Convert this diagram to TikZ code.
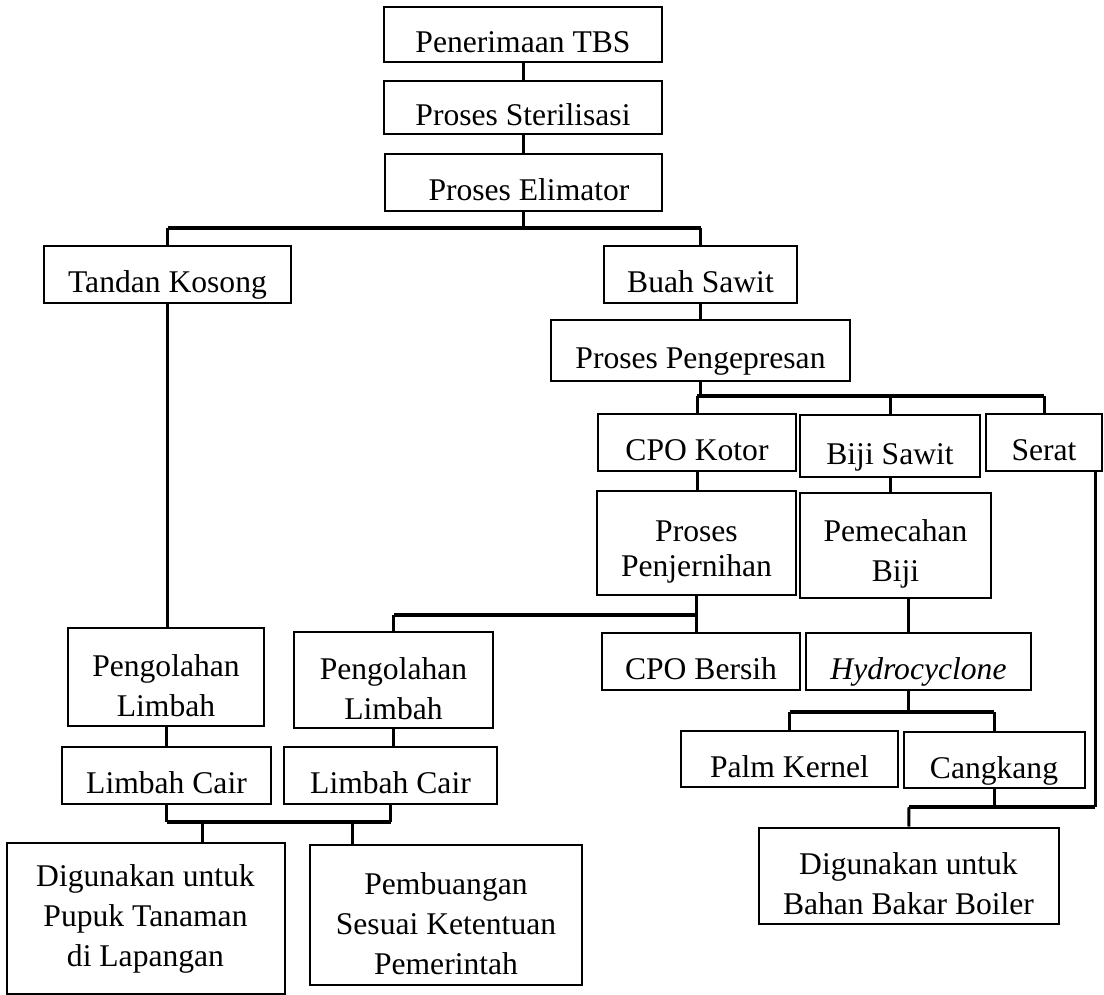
\documentclass[tikz,border=0pt]{standalone}
\usepackage{fontspec}
\setmainfont{Liberation Serif}
\usepackage{tikz}
\usetikzlibrary{positioning, calc}

\newcommand{\tinggi}{\rule{0pt}{19.5pt}}

\tikzset{
    kotak/.style={draw, line width=1pt, inner sep=0pt, font=\fontsize{15.8}{20}\selectfont, text height=18.4pt, text depth=0pt},
    kotakdua/.style={draw, line width=1pt, inner sep=0pt, align=center, font=\fontsize{15.8}{20}\selectfont},
    garis/.style={line width=1.5pt},
    cabang/.style={line width=2.2pt}
}

\begin{document}
\begin{tikzpicture}[x=0.5pt, y=-0.5pt]
    \useasboundingbox (0,0) rectangle (1104,995);

    % Proses awal
    \node[kotak, minimum width=139pt, minimum height=27.5pt] (tbs) at (523,34.5) {Penerimaan TBS};
    \node[kotak, minimum width=139pt, minimum height=26.5pt] (steril) at (523,107.5) {Proses Sterilisasi};
    \node[kotak, minimum width=138.5pt, minimum height=28.5pt] (elim) at (523,182.5) {\hspace{6pt}Proses Elimator};

    % Hasil elimator
    \node[kotak, minimum width=123.5pt, minimum height=28.5pt] (tandan) at (167.5,274.5) {Tandan Kosong};
    \node[kotak, minimum width=96.5pt, minimum height=28.5pt] (buah) at (700.5,274.5) {Buah Sawit};
    \node[kotak, minimum width=149.5pt, minimum height=30.5pt] (press) at (700.5,350.5) {Proses Pengepresan};

    % Hasil pengepresan
    \node[kotak, minimum width=99pt, minimum height=28.5pt] (cpok) at (697,442.5) {CPO Kotor};
    \node[kotak, minimum width=90pt, minimum height=31pt] (biji) at (890,446) {Biji Sawit};
    \node[kotak, minimum width=58pt, minimum height=28.5pt] (serat) at (1044,442.5) {Serat};
    \node[kotakdua, minimum width=99.5pt, minimum height=52pt, font=\fontsize{15.8}{17.5}\selectfont] (jernih) at (696.5,543) {\tinggi Proses\\Penjernihan};
    \node[kotakdua, minimum width=95.5pt, minimum height=52.5pt] (pecah) at (895.5,545.5) {\tinggi Pemecahan\\Biji};
    \node[kotak, minimum width=99pt, minimum height=28.5pt] (cpob) at (701,661.5) {CPO Bersih};
    \node[kotak, minimum width=112.5pt, minimum height=28.5pt] (hydro) at (918.5,661.5) {\textit{Hydrocyclone}};
    \node[kotak, minimum width=108.5pt, minimum height=28pt] (palm) at (789.5,759) {Palm Kernel};
    \node[kotak, minimum width=90.5pt, minimum height=28pt] (cangkang) at (994,760) {Cangkang};
    \node[kotakdua, minimum width=150pt, minimum height=48pt] (boiler) at (908.5,875.5) {\tinggi Digunakan untuk\\Bahan Bakar Boiler};

    % Limbah
    \node[kotakdua, minimum width=98pt, minimum height=49pt] (olah1) at (166,677) {\tinggi Pengolahan\\Limbah};
    \node[kotakdua, minimum width=99.5pt, minimum height=48pt] (olah2) at (393.5,680) {\tinggi Pengolahan\\Limbah};
    \node[kotak, minimum width=104.5pt, minimum height=28.5pt] (cair1) at (166.5,775.5) {Limbah Cair};
    \node[kotak, minimum width=106.5pt, minimum height=28.5pt] (cair2) at (390.5,775.5) {Limbah Cair};
    \node[kotakdua, minimum width=139pt, minimum height=75.5pt] (pupuk) at (145.5,918.5) {Digunakan untuk\\Pupuk Tanaman\\di Lapangan};
    \node[kotakdua, minimum width=136pt, minimum height=70pt] (buang) at (446,915) {\tinggi Pembuangan\\Sesuai Ketentuan\\Pemerintah};

    % Titik cabang
    \coordinate (j1) at (523,228);
    \coordinate (j2) at (700.5,396);
    \coordinate (j3) at (696.5,615);
    \coordinate (j4) at (908,712);
    \coordinate (j5) at (909,807);
    \coordinate (j5r) at (1095,807);
    \coordinate (j6a) at (202,822);
    \coordinate (j6b) at (352,822);

    % Batang utama
    \draw[garis] (tbs) -- (steril);
    \draw[garis] (steril) -- (elim);
    \draw[garis] (elim) -- (j1);
    \draw[garis] (j1 -| tandan) -- (tandan);
    \draw[garis] (j1 -| buah) -- (buah);
    \draw[cabang] (j1 -| tandan) -- (j1 -| buah);
    \draw[garis] (buah) -- (press);

    % Cabang pengepresan
    \draw[garis] (press) -- (j2);
    \draw[garis] (j2 -| cpok) -- (cpok);
    \draw[garis] (j2 -| biji) -- (biji);
    \draw[garis] (j2 -| serat) -- (serat);
    \draw[cabang] (j2 -| cpok) -- (j2 -| serat);
    \draw[garis] (cpok) -- (cpok |- jernih.north);
    \draw[garis] (biji) -- (biji |- pecah.north);

    % Cabang penjernihan
    \draw[garis] (jernih.south) -- (jernih.south |- cpob.north);
    \draw[garis] (j3 -| olah2) -- (olah2);
    \draw[cabang] (j3 -| olah2) -- (j3);

    % Cabang hydrocyclone
    \draw[garis] (pecah.south -| j4) -- (hydro.north -| j4);
    \draw[garis] (hydro.south -| j4) -- (j4);
    \draw[garis] (j4 -| palm) -- (palm);
    \draw[garis] (j4 -| cangkang) -- (cangkang);
    \draw[cabang] (j4 -| palm) -- (j4 -| cangkang);

    % Bahan bakar boiler
    \draw[garis] (serat.south -| j5r) -- (j5r);
    \draw[garis] (cangkang) -- (cangkang |- j5);
    \draw[garis] (j5) -- (boiler);
    \draw[cabang] (j5) -- (j5r);

    % Jalur limbah
    \draw[garis] (tandan) -- (tandan |- olah1.north);
    \draw[garis] (olah1) -- (olah1 |- cair1.north);
    \draw[garis] (olah2) -- (olah2 |- cair2.north);
    \draw[garis] (cair1) -- (cair1 |- j6a);
    \draw[garis] (cair2) -- (cair2 |- j6a);
    \draw[cabang] (cair1 |- j6a) -- (cair2 |- j6a);
    \draw[garis] (j6a) -- (pupuk.north -| j6a);
    \draw[garis] (j6b) -- (buang.north -| j6b);
\end{tikzpicture}
\end{document}
